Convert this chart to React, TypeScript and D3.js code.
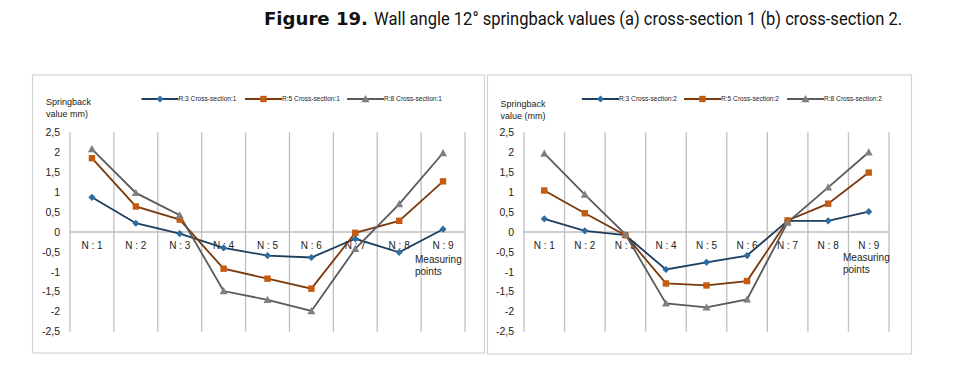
import React from "react";
import * as d3 from "d3";

const categories = ["N : 1", "N : 2", "N : 3", "N : 4", "N : 5", "N : 6", "N : 7", "N : 8", "N : 9"];
const yTicks = [2.5, 2, 1.5, 1, 0.5, 0, -0.5, -1, -1.5, -2, -2.5];

const s1R3 = [0.87, 0.22, -0.04, -0.4, -0.59, -0.64, -0.17, -0.51, 0.07];
const s1R5 = [1.85, 0.64, 0.31, -0.92, -1.17, -1.42, -0.02, 0.28, 1.27];
const s1R8 = [2.08, 0.98, 0.42, -1.48, -1.7, -1.98, -0.42, 0.7, 1.98];

const s2R3 = [0.33, 0.03, -0.08, -0.94, -0.76, -0.59, 0.28, 0.28, 0.51];
const s2R5 = [1.04, 0.47, -0.08, -1.29, -1.34, -1.23, 0.29, 0.71, 1.49];
const s2R8 = [1.97, 0.94, -0.06, -1.79, -1.89, -1.69, 0.24, 1.12, 2.0];

const legend1 = ["R:3 Cross-section:1", "R:5 Cross-section:1", "R:8 Cross-section:1"];
const legend2 = ["R:3 Cross-section:2", "R:5 Cross-section:2", "R:8 Cross-section:2"];

const styles = [
  { line: "#1f3d5c", marker: "#2e6da4", shape: "diamond" },
  { line: "#7a3a0e", marker: "#c55a11", shape: "square" },
  { line: "#5a5a5a", marker: "#7f7f7f", shape: "triangle" },
];

const FONT = "'Liberation Sans', Arial, sans-serif";

function Marker({ x, y, shape, color }: { x: number; y: number; shape: string; color: string }) {
  if (shape === "diamond") {
    const r = 3.6;
    return <path d={`M${x},${y - r}L${x + r},${y}L${x},${y + r}L${x - r},${y}Z`} fill={color} />;
  }
  if (shape === "square") {
    const r = 3.2;
    return <rect x={x - r} y={y - r} width={2 * r} height={2 * r} fill={color} />;
  }
  const r = 4;
  return <path d={`M${x},${y - r}L${x + r},${y + r * 0.8}L${x - r},${y + r * 0.8}Z`} fill={color} />;
}

type PanelProps = {
  frame: [number, number, number, number];
  xRange: [number, number];
  series: number[][];
  legend: string[];
  legendX: number[];
  yLabel: string[];
  yLabelX: number;
  yLabelY: number;
  tickX: number;
  measX: number;
  measY: number;
};

function Panel(p: PanelProps) {
  const y = d3.scaleLinear().domain([-2.5, 2.5]).range([331.7, 132.3]);
  const x = d3.scaleBand<string>().domain(categories).range(p.xRange).padding(0);
  const cx = (c: string) => (x(c) as number) + x.bandwidth() / 2;
  const line = d3
    .line<number>()
    .x((_, i) => cx(categories[i]))
    .y((d) => y(d));
  const [fx0, fx1, fy0, fy1] = p.frame;
  const bounds = [...categories.map((c) => x(c) as number), p.xRange[1]];
  return (
    <g>
      <rect x={fx0} y={fy0} width={fx1 - fx0} height={fy1 - fy0} fill="#fff" stroke="#d4d4d4" strokeWidth={1.2} />
      {bounds.map((b, i) => (
        <line key={i} x1={b} x2={b} y1={y(2.5)} y2={y(-2.5)} stroke="#bfbfbf" strokeWidth={1.3} />
      ))}
      <line x1={p.xRange[0]} x2={p.xRange[1]} y1={y(0)} y2={y(0)} stroke="#bfbfbf" strokeWidth={1.3} />
      {yTicks.map((t) => (
        <text key={t} x={p.tickX} y={y(t)} dy="0.35em" textAnchor="end" fontFamily={FONT} fontSize={10.5} fill="#222">
          {String(t).replace(".", ",")}
        </text>
      ))}
      {categories.map((c) => (
        <text key={c} x={cx(c)} y={y(0) + 13} dy="0.35em" textAnchor="middle" fontFamily={FONT} fontSize={10} fill="#222">
          {c}
        </text>
      ))}
      <text x={p.measX} y={p.measY} fontFamily={FONT} fontSize={10} fill="#222">
        <tspan x={p.measX}>Measuring</tspan>
        <tspan x={p.measX} dy={12}>points</tspan>
      </text>
      <text x={p.yLabelX} y={p.yLabelY} fontFamily={FONT} fontSize={9} fill="#222">
        <tspan x={p.yLabelX}>{p.yLabel[0]}</tspan>
        <tspan x={p.yLabelX} dy={12}>{p.yLabel[1]}</tspan>
      </text>
      {p.series.map((s, k) => (
        <path key={k} d={line(s) as string} fill="none" stroke={styles[k].line} strokeWidth={1.8} />
      ))}
      {p.series.map((s, k) =>
        s.map((v, i) => <Marker key={k + "-" + i} x={cx(categories[i])} y={y(v)} shape={styles[k].shape} color={styles[k].marker} />)
      )}
      {p.legend.map((l, k) => {
        const lx = p.legendX[k];
        return (
          <g key={l}>
            <line x1={lx} x2={lx + 37} y1={99} y2={99} stroke={styles[k].line} strokeWidth={2} />
            <Marker x={lx + 18.5} y={99} shape={styles[k].shape} color={styles[k].marker} />
            <text x={lx + 37} y={99} dy="0.35em" fontFamily={FONT} fontSize={7} fill="#222" textLength={58} lengthAdjust="spacingAndGlyphs">
              {l}
            </text>
          </g>
        );
      })}
    </g>
  );
}

export default function App() {
  return (
    <svg width={956} height={377} style={{ position: "absolute", left: 0, top: 0, background: "#fff" }}>
      <rect x={0} y={0} width={956} height={377} fill="#fff" />
      <text x={264} y={25} fontFamily="'DejaVu Sans', sans-serif" fontWeight="bold" fontSize={17.5} fill="#111" textLength={104} lengthAdjust="spacingAndGlyphs">
        Figure 19.
      </text>
      <text transform="translate(374,25) scale(0.86,1)" x={0} y={0} fontFamily="Roboto, sans-serif" fontSize={19} fill="#111" textLength={614} lengthAdjust="spacingAndGlyphs">
        Wall angle 12° springback values (a) cross-section 1 (b) cross-section 2.
      </text>
      <Panel
        frame={[32.5, 484.5, 75, 353]}
        xRange={[70, 465]}
        series={[s1R3, s1R5, s1R8]}
        legend={legend1}
        legendX={[141.5, 245, 347]}
        yLabel={["Springback", "value mm)"]}
        yLabelX={46}
        yLabelY={105}
        tickX={60}
        measX={415}
        measY={263}
      />
      <Panel
        frame={[487.5, 911.5, 75, 354]}
        xRange={[524, 889]}
        series={[s2R3, s2R5, s2R8]}
        legend={legend2}
        legendX={[582, 684, 787]}
        yLabel={["Springback", "value (mm)"]}
        yLabelX={500.5}
        yLabelY={107}
        tickX={514}
        measX={843}
        measY={261}
      />
    </svg>
  );
}
